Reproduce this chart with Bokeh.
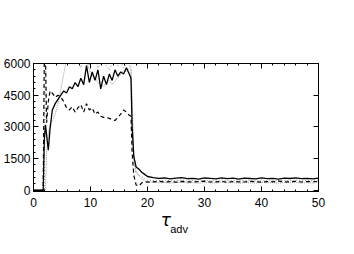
from bokeh.plotting import figure
from bokeh.models import LinearAxis, Range1d, FixedTicker
from bokeh.embed import file_html
from bokeh.resources import INLINE

x = [0, 1, 1.7, 1.9, 2.1, 2.3, 2.6, 2.9, 3.3, 3.8,
     4.3, 4.8, 5.3, 5.8, 6.3, 6.8, 7.3, 7.8, 8.3, 8.8,
     9.3, 9.8, 10.3, 10.8, 11.3, 11.8, 12.3, 12.8, 13.3, 13.8,
     14.3, 14.8, 15.3, 15.8, 16.3, 16.8, 17.1, 17.3, 17.6, 18.0,
     18.5, 19.0, 19.5] + list(range(20, 51))

solid = [0, 0, 0, 2400, 3100, 2600, 1900, 2900, 3800, 4100,
         4300, 4500, 4700, 4600, 4900, 4800, 5100, 4900, 5300, 5000,
         5900, 5100, 5600, 5200, 5700, 4800, 5400, 5000, 5500, 5200,
         5700, 5400, 5600, 5500, 5800, 5500, 5300, 3000, 1600, 1100,
         1000, 850, 750,
         650, 600, 560, 580, 540, 570, 600, 550, 560, 530, 580, 560, 540, 590, 550, 570,
         530, 575, 555, 535, 585, 545, 565, 530, 575, 555, 590, 545, 565, 535, 570]

dashed = [0, 0, 0, 6500, 6500, 3200, 4200, 4700, 4600, 4400,
          4500, 4400, 4200, 3900, 3800, 3950, 3700, 3900, 4050, 3700,
          4100, 3800, 3900, 3600, 3700, 3500, 3450, 3450, 3400, 3350,
          3300, 3450, 3600, 3800, 3700, 3550, 3500, 1800, 700, 250,
          200, 350, 400,
          380, 400, 420, 390, 410, 380, 420, 400, 390, 410, 430, 390, 400, 420, 380, 410,
          400, 390, 420, 400, 380, 410, 400, 430, 390, 400, 420, 390, 410, 400, 420]

dotted = [0, 0, 0, 0, 0, 1800, 2700, 3100, 3300, 3600,
          4100, 4800, 5500, 6200, 6300, 6300, 6200, 6000, 6200, 6400,
          6100, 5700, 5400, 5300, 5100, 5000, 4900, 5100, 5200, 5000,
          5200, 5300, 5500, 5700, 5600, 5800, 5700, 4000, 1500, 900,
          700, 550, 450,
          400, 380, 350, 370, 340, 360, 380, 340, 360, 330, 370, 350, 340, 380, 350, 360,
          330, 370, 350, 340, 380, 350, 360, 330, 370, 350, 380, 340, 360, 340, 370]

dotted2 = [0, 0, 0, 0, 6500, 6400, 6300, 6200, 6300, 6200,
           6400, 6300, 6200, 6300, 6100, 6200, 6300, 6100, 5800, 6200,
           6300, 5900, 6100, 6200, 5800, 6000, 6200, 5900, 5700, 6000,
           6200, 5900, 6100, 5800, 6000, 5900, 5900, 4500, 1300, 800,
           700, 650, 550,
           480, 460, 440, 470, 450, 460, 480, 440, 460, 430, 470, 450, 440, 480, 450, 460,
           430, 470, 450, 440, 480, 450, 460, 430, 470, 450, 480, 440, 460, 440, 470]

xticks = [0, 10, 20, 30, 40, 50]
yticks = [0, 1500, 3000, 4500, 6000]

p = figure(width=338, height=238, output_backend="svg", toolbar_location=None,
           x_range=Range1d(0, 50), y_range=Range1d(-60, 6000),
           x_axis_location=None, y_axis_location=None,
           min_border_left=28, min_border_right=20, min_border_top=63, min_border_bottom=47)
p.grid.visible = False
p.outline_line_color = "black"
p.outline_line_width = 1
p.background_fill_color = "white"
p.border_fill_color = "white"

def make_axis(ticks, labels, minor):
    ax = LinearAxis(ticker=FixedTicker(ticks=ticks, minor_ticks=minor))
    ax.major_tick_in = 5
    ax.major_tick_out = 0
    ax.minor_tick_in = 2
    ax.minor_tick_out = 0
    ax.axis_line_color = "black"
    ax.major_tick_line_color = "black"
    ax.minor_tick_line_color = "black"
    ax.major_label_text_font = "Liberation Sans"
    ax.major_label_text_font_size = "12px"
    ax.major_label_text_color = "black"
    if not labels:
        ax.major_label_overrides = {t: "" for t in ticks}
        ax.major_label_standoff = 0
    return ax

xminor = [i for i in range(0, 51, 2)]
yminor = [i * 300 for i in range(0, 21)]

bottom = make_axis(xticks, True, xminor)
bottom.major_label_standoff = 6
bottom.axis_label = "τ\u2002\u2002\u2009"
bottom.axis_label_text_font = "DejaVu Sans"
bottom.axis_label_text_font_style = "italic"
bottom.axis_label_text_font_size = "17px"
bottom.axis_label_text_color = "black"
bottom.axis_label_standoff = 0

sub = LinearAxis(ticker=FixedTicker(ticks=[]))
sub.axis_line_color = None
sub.major_tick_line_color = None
sub.minor_tick_line_color = None
sub.major_tick_in = 0
sub.major_tick_out = 0
sub.major_label_standoff = 0
sub.axis_label = "\u00a0\u00a0adv"
sub.axis_label_text_font = "Liberation Sans"
sub.axis_label_text_font_style = "normal"
sub.axis_label_text_font_size = "11px"
sub.axis_label_text_color = "black"
sub.axis_label_standoff = -10

top = make_axis(xticks, False, xminor)
left = make_axis(yticks, True, yminor)
left.major_label_standoff = 3
right = make_axis(yticks, False, [])
p.add_layout(bottom, "below")
p.add_layout(sub, "below")
p.add_layout(top, "above")
p.add_layout(left, "left")
p.add_layout(right, "right")

p.line(x, dotted2, line_color="#888888", line_width=1, line_dash="1 2")
p.line(x, dotted, line_color="#999999", line_width=1, line_dash="1 1")
p.line(x, dashed, line_color="black", line_width=1.2, line_dash="4 3")
p.line(x, solid, line_color="black", line_width=1.3)

open("out.html", "w").write(file_html(p, INLINE))
